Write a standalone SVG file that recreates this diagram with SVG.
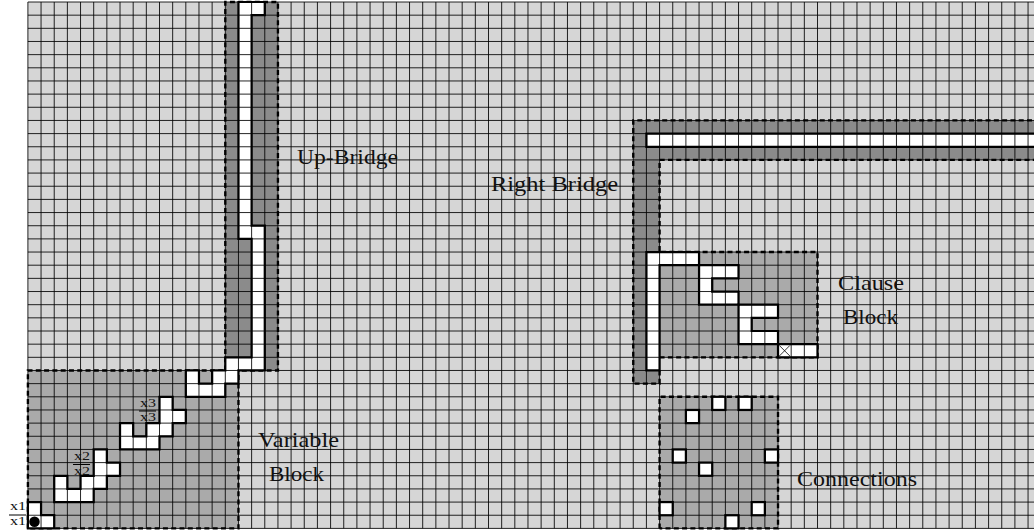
<svg xmlns="http://www.w3.org/2000/svg" width="1034" height="531" viewBox="0 0 1034 531">
<style>
.bg{fill:#fff}
.light{fill:#d6d6d6}
.mid{fill:#aaa}
.dark{fill:#8b8b8b}
.dash{fill:none;stroke:#000;stroke-width:.18;stroke-dasharray:.38 .25}
.cell{fill:#fff;stroke:none}
.edge{fill:none;stroke:#000;stroke-width:.17;stroke-linejoin:miter}
.grid{fill:none;stroke:#000;stroke-width:.065}
.thin{fill:none;stroke:#000;stroke-width:.06}
text{font-family:"Liberation Serif","Times New Roman",serif;fill:#111}
.lab{font-size:21px}
.sm{font-size:13.5px}
.over{stroke:#000;stroke-width:1}
</style>
<defs>
<polygon id="w-x1" points="0,0 2,0 2,1 1,1 1,2 0,2"/>
<polygon id="w-x2" points="2,2 5,2 5,3 6,3 6,4 7,4 7,5 6,5 6,6 5,6 5,4 4,4 4,3 3,3 3,4 2,4"/>
<polygon id="w-x3" points="7,6 10,6 10,7 11,7 11,8 12,8 12,9 11,9 11,10 10,10 10,8 9,8 9,7 8,7 8,8 7,8"/>
<polygon id="w-up" points="12,10 15,10 15,11 16,11 16,12 18,12 18,23 17,23 17,39 18,39 18,40 16,40 16,22 17,22 17,13 15,13 15,12 14,12 14,11 13,11 13,12 12,12"/>
<polygon id="w-right" points="47,29 78,29 78,30 47,30"/>
<polygon id="w-l" points="47,12 48,12 48,20 51,20 51,21 47,21"/>
<polygon id="w-c1" points="51,17 54,17 54,18 52,18 52,19 54,19 54,20 51,20"/>
<polygon id="w-c2" points="54,14 57,14 57,15 55,15 55,16 57,16 57,17 54,17"/>
<polygon id="w-end" points="57,13 60,13 60,14 57,14"/>
<rect id="sq" width="1" height="1"/>
</defs>
<rect class="bg" width="1034" height="531"/>
<g transform="translate(27.9 528.4) scale(13.16 -13.16)">
<rect id="canvas" class="light" x="0" y="0" width="78" height="40"/>
<g id="regions">
<rect id="variable-block-area" class="mid" x="0" y="0" width="16" height="12"/>
<rect id="up-bridge-area" class="dark" x="15" y="12" width="4" height="28"/>
<path id="right-bridge-area" class="dark" d="M46 11H48V28H78V31H46Z"/>
<rect id="clause-block-area" class="mid" x="48" y="13" width="12" height="8"/>
<rect id="connections-area" class="mid" x="48" y="0" width="9" height="10"/>
</g>
<g id="dashed-borders">
<path class="dash" d="M0 0V12H16V0H0"/>
<path class="dash" d="M15 12V40H19V12H15"/>
<path class="dash" d="M78 28H48V21M48 12V11H46V31H78"/>
<path class="dash" d="M48 13H60V21H48"/>
<path class="dash" d="M48 0V10H57V0H48"/>
</g>
<g id="cells">
<use href="#w-x1" class="cell"/><use href="#w-x2" class="cell"/><use href="#w-x3" class="cell"/><use href="#w-up" class="cell"/><use href="#w-right" class="cell"/><use href="#w-l" class="cell"/><use href="#w-c1" class="cell"/><use href="#w-c2" class="cell"/><use href="#w-end" class="cell"/>
</g>
<path id="grid" class="grid" d="M0 0V40M1 0V40M2 0V40M3 0V40M4 0V40M5 0V40M6 0V40M7 0V40M8 0V40M9 0V40M10 0V40M11 0V40M12 0V40M13 0V40M14 0V40M15 0V40M16 0V40M17 0V40M18 0V40M19 0V40M20 0V40M21 0V40M22 0V40M23 0V40M24 0V40M25 0V40M26 0V40M27 0V40M28 0V40M29 0V40M30 0V40M31 0V40M32 0V40M33 0V40M34 0V40M35 0V40M36 0V40M37 0V40M38 0V40M39 0V40M40 0V40M41 0V40M42 0V40M43 0V40M44 0V40M45 0V40M46 0V40M47 0V40M48 0V40M49 0V40M50 0V40M51 0V40M52 0V40M53 0V40M54 0V40M55 0V40M56 0V40M57 0V40M58 0V40M59 0V40M60 0V40M61 0V40M62 0V40M63 0V40M64 0V40M65 0V40M66 0V40M67 0V40M68 0V40M69 0V40M70 0V40M71 0V40M72 0V40M73 0V40M74 0V40M75 0V40M76 0V40M0 0H78M0 1H78M0 2H78M0 3H78M0 4H78M0 5H78M0 6H78M0 7H78M0 8H78M0 9H78M0 10H78M0 11H78M0 12H78M0 13H78M0 14H78M0 15H78M0 16H78M0 17H78M0 18H78M0 19H78M0 20H78M0 21H78M0 22H78M0 23H78M0 24H78M0 25H78M0 26H78M0 27H78M0 28H78M0 29H78M0 30H78M0 31H78M0 32H78M0 33H78M0 34H78M0 35H78M0 36H78M0 37H78M0 38H78M0 39H78M0 40H78"/>
<g id="variable-wires">
<use href="#w-x1" class="edge"/><use href="#w-x2" class="edge"/><use href="#w-x3" class="edge"/>
<circle cx=".5" cy=".5" r=".4" fill="#000"/>
</g>
<g id="up-bridge"><use href="#w-up" class="edge"/></g>
<g id="right-bridge"><use href="#w-right" class="edge"/></g>
<g id="clause-block">
<use href="#w-l" class="edge"/><use href="#w-c1" class="edge"/><use href="#w-c2" class="edge"/><use href="#w-end" class="edge"/>
<path class="thin" d="M57.1 13.1L57.9 13.9M57.1 13.9L57.9 13.1"/>
</g>
<g id="connections">
<use href="#sq" x="52" y="9" class="cell"/><use href="#sq" x="54" y="9" class="cell"/><use href="#sq" x="50" y="8" class="cell"/><use href="#sq" x="49" y="5" class="cell"/><use href="#sq" x="56" y="5" class="cell"/><use href="#sq" x="51" y="4" class="cell"/><use href="#sq" x="48" y="1" class="cell"/><use href="#sq" x="55" y="1" class="cell"/><use href="#sq" x="53" y="0" class="cell"/>
<use href="#sq" x="52" y="9" class="edge"/><use href="#sq" x="54" y="9" class="edge"/><use href="#sq" x="50" y="8" class="edge"/><use href="#sq" x="49" y="5" class="edge"/><use href="#sq" x="56" y="5" class="edge"/><use href="#sq" x="51" y="4" class="edge"/><use href="#sq" x="48" y="1" class="edge"/><use href="#sq" x="55" y="1" class="edge"/><use href="#sq" x="53" y="0" class="edge"/>
</g>
</g>
<g id="labels">
<text class="lab" x="297" y="164" textLength="101" lengthAdjust="spacingAndGlyphs">Up-Bridge</text>
<text class="lab" x="491" y="191" textLength="127" lengthAdjust="spacingAndGlyphs">Right Bridge</text>
<text class="lab" x="258" y="447" textLength="81" lengthAdjust="spacingAndGlyphs">Variable</text>
<text class="lab" x="269" y="481" textLength="55" lengthAdjust="spacingAndGlyphs">Block</text>
<text class="lab" x="838" y="290" textLength="66" lengthAdjust="spacingAndGlyphs">Clause</text>
<text class="lab" x="843" y="324" textLength="55" lengthAdjust="spacingAndGlyphs">Block</text>
<text class="lab" x="797" y="486" textLength="120" lengthAdjust="spacingAndGlyphs">Connections</text>
<text class="sm" x="10" y="510" textLength="16" lengthAdjust="spacingAndGlyphs">x1</text>
<text class="sm" x="10" y="524.5" textLength="16" lengthAdjust="spacingAndGlyphs">x1</text>
<line class="over" x1="9" y1="515" x2="26" y2="515"/>
<text class="sm" x="74" y="460" textLength="16" lengthAdjust="spacingAndGlyphs">x2</text>
<text class="sm" x="74" y="474.5" textLength="16" lengthAdjust="spacingAndGlyphs">x2</text>
<line class="over" x1="73" y1="464.5" x2="90" y2="464.5"/>
<text class="sm" x="140" y="406.5" textLength="16" lengthAdjust="spacingAndGlyphs">x3</text>
<text class="sm" x="140" y="421" textLength="16" lengthAdjust="spacingAndGlyphs">x3</text>
<line class="over" x1="139" y1="411" x2="156" y2="411"/>
</g>
</svg>
